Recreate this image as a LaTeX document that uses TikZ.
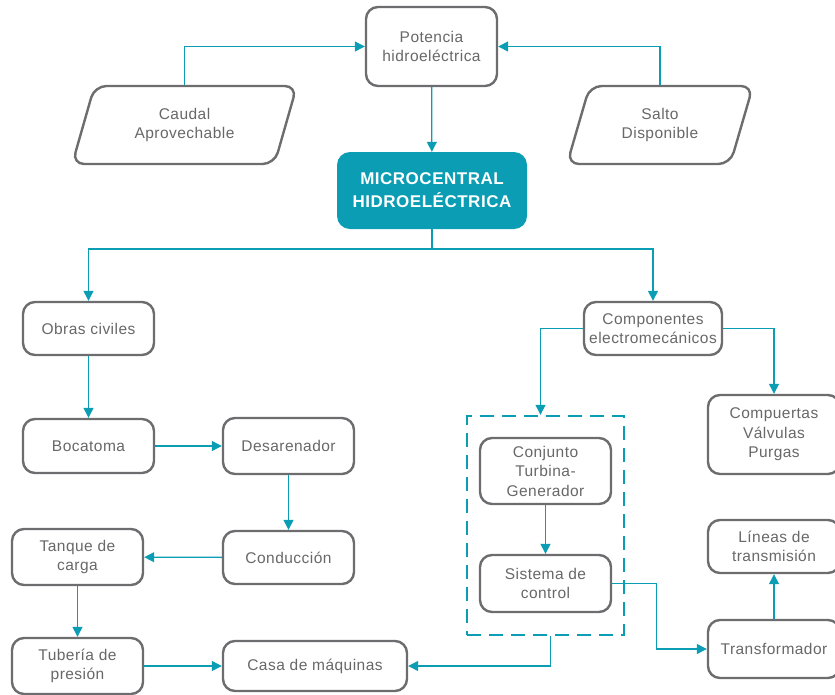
\documentclass[tikz,border=0pt]{standalone}
\usepackage{fontspec}
\setmainfont{Liberation Sans}[LetterSpace=3]
\usetikzlibrary{shapes.geometric,arrows.meta}
\definecolor{tealmain}{HTML}{0A9DB4}
\definecolor{greyline}{HTML}{6D6D70}
\definecolor{greytext}{HTML}{686868}
\tikzset{%
    box/.style={%
        draw=greyline, line width=2.4pt, rounded corners=12pt, fill=white,
        text=greytext, align=center, inner sep=0pt,
        font=\fontsize{15.5}{19.5}\selectfont
    },
    databox/.style={%
        box, shape=trapezium, trapezium left angle=70, trapezium right angle=110,
        trapezium stretches=true, minimum height=78pt
    },
    mainbox/.style={%
        draw=none, fill=tealmain, rounded corners=13pt, text=white, align=center,
        font=\fontsize{17}{23}\selectfont\bfseries, minimum width=190pt, minimum height=77pt
    },
    groupbox/.style={%
        draw=tealmain, line width=2.4pt, dash pattern=on 14pt off 8pt,
        minimum width=157pt, minimum height=219pt
    },
    link/.style={%
        draw=tealmain, line width=1.3pt, -{Triangle[length=10pt,width=10pt]}
    }
}
\begin{document}
\begin{tikzpicture}[x=1pt, y=-1pt]
    \useasboundingbox (0,0) rectangle (835,694);
    \clip (0,0) rectangle (835,694);
    % top level
    \node[box, minimum width=131pt, minimum height=79pt] (pot) at (431.5,46.5) {Potencia\\hidroeléctrica};
    \node[databox, minimum width=225pt] (caudal) at (184.5,125) {Caudal\\Aprovechable};
    \node[databox, minimum width=186pt] (salto) at (660,125) {Salto\\Disponible};
    \node[mainbox] (micro) at (432,190.5) {MICROCENTRAL\\HIDROELÉCTRICA};
    \coordinate (split) at (432,249);
    % obras civiles
    \node[box, minimum width=131pt, minimum height=53pt] (obras) at (88.5,328.5) {Obras civiles};
    \node[box, minimum width=131pt, minimum height=54pt] (boca) at (88.5,446) {Bocatoma};
    \node[box, minimum width=131pt, minimum height=56pt] (desa) at (288.5,446) {Desarenador};
    \node[box, minimum width=131pt, minimum height=53pt] (cond) at (288.5,557.5) {Conducción};
    \node[box, minimum width=131pt, minimum height=56pt] (tanque) at (77.5,557) {Tanque de\\carga};
    \node[box, minimum width=131pt, minimum height=56pt] (tub) at (77.5,666) {Tubería de\\presión};
    \node[box, minimum width=184pt, minimum height=50pt] (casa) at (315,666) {Casa de máquinas};
    % componentes
    \node[box, minimum width=138pt, minimum height=53pt] (comp) at (653,328.5) {Componentes\\electromecánicos};
    \node[box, minimum width=132pt, minimum height=79pt] (puertas) at (774,434.5) {Compuertas\\Válvulas\\Purgas};
    \node[groupbox] (grupo) at (545.5,525.5) {};
    \node[box, minimum width=131pt, minimum height=66pt] (conj) at (545.5,471) {Conjunto\\Turbina-\\Generador};
    \node[box, minimum width=131pt, minimum height=57pt] (sis) at (545.5,583.5) {Sistema de\\control};
    \node[box, minimum width=132pt, minimum height=53pt] (lineas) at (774,546.5) {Líneas de\\transmisión};
    \node[box, minimum width=132pt, minimum height=58pt] (trans) at (774,649) {Transformador};
    \draw[link] (caudal.north) |- (pot.west);
    \draw[link] (salto.north) |- (pot.east);
    \draw[link] (pot) -- (micro);
    \draw[link] (micro.south) -- (split) -| (obras.north);
    \draw[link] (split) -| (comp.north);
    \draw[link] (obras) -- (boca);
    \draw[link] (boca) -- (desa);
    \draw[link] (desa) -- (cond);
    \draw[link] (cond) -- (tanque);
    \draw[link] (tanque) -- (tub);
    \draw[link] (tub.east) -- (casa.west);
    \draw[link] ([xshift=5pt]grupo.south) |- (casa.east);
    \draw[link] (comp.west) -| ([xshift=-5pt]grupo.north);
    \draw[link] (comp.east) -| (puertas.north);
    \draw[link] (conj) -- (sis);
    \draw[link] (sis.east) -- ++(44,0) |- (trans.west);
    \draw[link] (trans) -- (lineas);
\end{tikzpicture}
\end{document}
